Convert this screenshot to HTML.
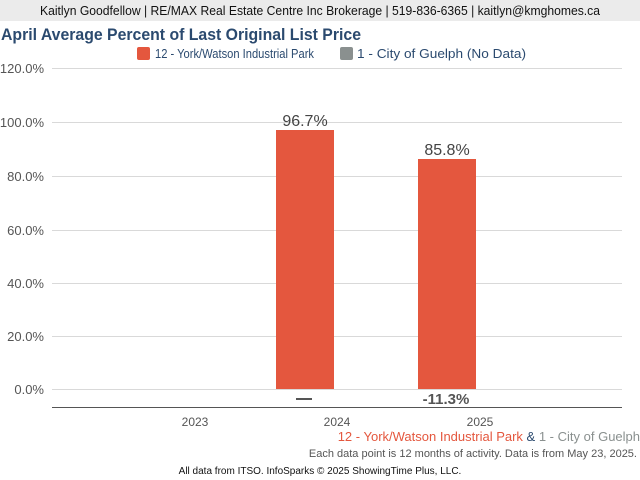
<!DOCTYPE html>
<html><head><meta charset="utf-8"><style>
body{margin:0;width:640px;height:480px;background:#fff;overflow:hidden;position:relative}
</style></head><body>
<svg width="640" height="480" style="position:absolute;left:0;top:0" font-family="Liberation Sans, sans-serif">
<rect x="0" y="0" width="640" height="21" fill="#ebebeb"/>
<text x="40" y="15" font-size="13" fill="#111" textLength="560" lengthAdjust="spacingAndGlyphs">Kaitlyn Goodfellow | RE/MAX Real Estate Centre Inc Brokerage | 519-836-6365 | kaitlyn@kmghomes.ca</text>
<text x="1" y="40" font-size="17" font-weight="bold" fill="#2b4a6f" textLength="360" lengthAdjust="spacingAndGlyphs">April Average Percent of Last Original List Price</text>
<rect x="137" y="47" width="13" height="13" rx="2" fill="#e4573e"/>
<text x="155" y="58" font-size="13" fill="#2b4a6f" textLength="159" lengthAdjust="spacingAndGlyphs">12 - York/Watson Industrial Park</text>
<rect x="340" y="47" width="13" height="13" rx="2" fill="#8a908f"/>
<text x="357" y="58" font-size="13" fill="#2b4a6f" textLength="169" lengthAdjust="spacingAndGlyphs">1 - City of Guelph (No Data)</text>
<g stroke="#d9d9d9" stroke-width="1">
<line x1="52" x2="622" y1="68.5" y2="68.5"/><line x1="52" x2="622" y1="122.5" y2="122.5"/>
<line x1="52" x2="622" y1="176.5" y2="176.5"/><line x1="52" x2="622" y1="230.5" y2="230.5"/>
<line x1="52" x2="622" y1="283.5" y2="283.5"/><line x1="52" x2="622" y1="336.5" y2="336.5"/>
<line x1="52" x2="622" y1="389.5" y2="389.5"/>
</g>
<line x1="52" x2="622" y1="407.5" y2="407.5" stroke="#555"/>
<g font-size="13" fill="#555" text-anchor="end">
<text x="44" y="73">120.0%</text><text x="44" y="127">100.0%</text><text x="44" y="181">80.0%</text>
<text x="44" y="235">60.0%</text><text x="44" y="288">40.0%</text><text x="44" y="341">20.0%</text><text x="44" y="394">0.0%</text>
</g>
<rect x="276" y="130" width="58" height="259" fill="#e4573e"/>
<rect x="418" y="159" width="58" height="230" fill="#e4573e"/>
<g font-size="16" fill="#444" text-anchor="middle">
<text x="305" y="126">96.7%</text><text x="447" y="155">85.8%</text>
</g>
<line x1="296" x2="312" y1="399" y2="399" stroke="#555" stroke-width="2"/>
<text x="446" y="404" font-size="15" font-weight="bold" fill="#555" text-anchor="middle">-11.3%</text>
<g font-size="12" fill="#555" text-anchor="middle">
<text x="195" y="426">2023</text><text x="337" y="426">2024</text><text x="480" y="426">2025</text>
</g>
<text x="640" y="441" font-size="13" text-anchor="end"><tspan fill="#e4573e">12 - York/Watson Industrial Park </tspan><tspan fill="#2b4a6f">&amp; </tspan><tspan fill="#8a908f">1 - City of Guelph</tspan></text>
<text x="637" y="457" font-size="11" fill="#555" text-anchor="end">Each data point is 12 months of activity. Data is from May 23, 2025.</text>
<text x="320" y="474" font-size="10" fill="#111" text-anchor="middle">All data from ITSO. InfoSparks © 2025 ShowingTime Plus, LLC.</text>
</svg>
</body></html>
